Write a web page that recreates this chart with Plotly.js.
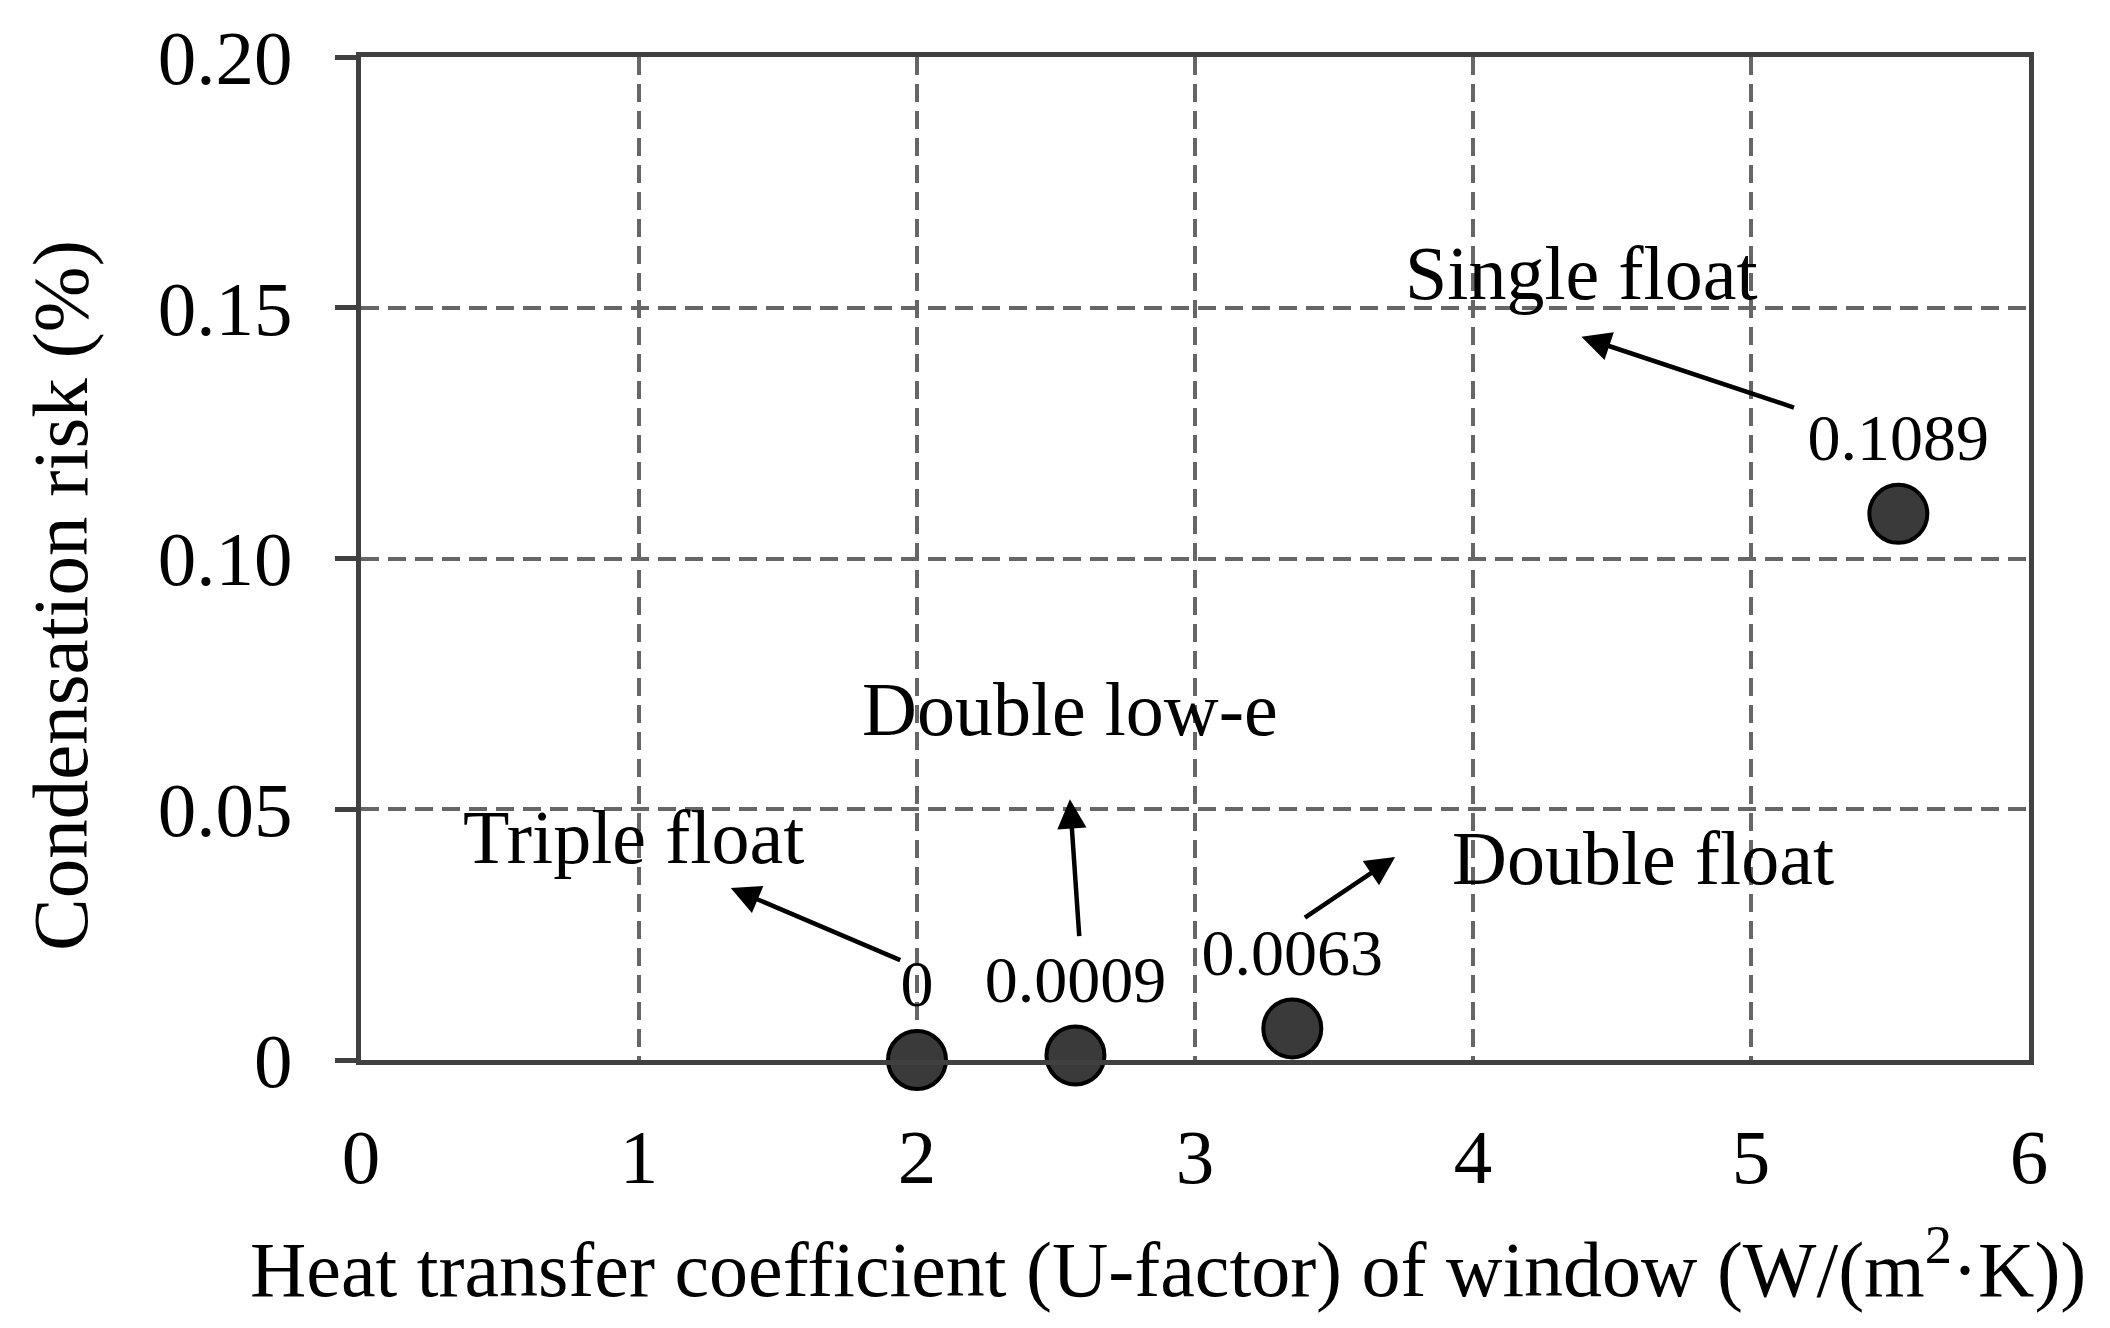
<!DOCTYPE html>
<html>
<head>
<meta charset="utf-8">
<script src="https://cdn.plot.ly/plotly-3.0.1.min.js"></script>
<style>
  html, body { margin: 0; padding: 0; background: #fff; }
  #chart { width: 2110px; height: 1328px; }
</style>
</head>
<body>
<div id="chart"></div>
<script>
// data
const windowTypes = ['Triple float', 'Double low-e', 'Double float', 'Single float'];
const uFactor = [2.0, 2.57, 3.35, 5.53];
const condensationRisk = [0, 0.0009, 0.0063, 0.1089];
const riskLabels = ['0', '0.0009', '0.0063', '0.1089'];

const yTickVals = [0, 0.05, 0.10, 0.15, 0.20];
const yTickText = ['0', '0.05', '0.10', '0.15', '0.20'];
const xTickVals = [0, 1, 2, 3, 4, 5, 6];

const xTitle = 'Heat transfer coefficient (U-factor) of window (W/(m<sup>2</sup>·K))';
const yTitle = 'Condensation risk (%)';

const font = 'Liberation Serif, Times New Roman, serif';

// where each name sits, and the arrow from the value label toward it
const nameSpots = [
    {x: 0.98, y: 0.0445, tailX: 1.945, tailY: 0.0198, headX: 1.33, headY: 0.0343},
    {x: 2.55, y: 0.070, tailX: 2.584, tailY: 0.0244, headX: 2.55, headY: 0.052},
    {x: 4.61, y: 0.0402, tailX: 3.39, tailY: 0.0282, headX: 3.72, headY: 0.0405},
    {x: 4.39, y: 0.157, tailX: 5.16, tailY: 0.130, headX: 4.39, headY: 0.1442}
];

let pointTrace = {
    x: uFactor,
    y: condensationRisk,
    text: riskLabels,
    mode: 'markers+text',
    textposition: 'top center',
    textfont: {family: font, size: 66, color: '#000'},
    marker: {size: 58, color: '#3a3a3a', line: {color: '#000', width: 4}},
    cliponaxis: false,
    hoverinfo: 'x+y'
};

let annotations = [];
nameSpots.forEach(function(s, i) {
    annotations.push({
        x: s.x, y: s.y, xref: 'x', yref: 'y',
        text: windowTypes[i], showarrow: false,
        font: {family: font, size: 76, color: '#000'}
    });
    annotations.push({
        x: s.headX, y: s.headY, ax: s.tailX, ay: s.tailY,
        xref: 'x', yref: 'y', axref: 'x', ayref: 'y',
        text: '', showarrow: true,
        arrowhead: 2, arrowsize: 1.3, arrowwidth: 4.5, arrowcolor: '#000'
    });
});

// axis titles, placed by hand to sit where the reference has them
annotations.push({
    x: 0.484, y: -0.203, xref: 'paper', yref: 'paper',
    xanchor: 'center', yanchor: 'middle',
    text: xTitle, showarrow: false,
    font: {family: font, size: 78, color: '#000'}
});
annotations.push({
    x: -0.1805, y: 0.4636, xref: 'paper', yref: 'paper',
    xanchor: 'center', yanchor: 'middle', textangle: -90,
    text: yTitle, showarrow: false,
    font: {family: font, size: 79, color: '#000'}
});

let layout = {
    width: 2110,
    height: 1328,
    margin: {l: 361, r: 81, t: 57, b: 268},
    paper_bgcolor: '#fff',
    plot_bgcolor: '#fff',
    showlegend: false,
    font: {family: font, color: '#000'},
    xaxis: {
        range: [0, 6],
        tickvals: xTickVals,
        ticks: '',
        ticklabelstandoff: 26,
        tickfont: {family: font, size: 77, color: '#000'},
        showgrid: true,
        gridcolor: '#666',
        gridwidth: 4,
        griddash: '18px,9px',
        zeroline: false,
        showline: true,
        linecolor: '#404040',
        linewidth: 5,
        mirror: true
    },
    yaxis: {
        range: [0, 0.2],
        tickvals: yTickVals,
        ticktext: yTickText,
        ticks: 'outside',
        ticklen: 21,
        tickwidth: 5,
        tickcolor: '#404040',
        ticklabelstandoff: 27,
        tickfont: {family: font, size: 77, color: '#000'},
        showgrid: true,
        gridcolor: '#666',
        gridwidth: 4,
        griddash: '18px,9px',
        zeroline: false,
        showline: true,
        linecolor: '#404040',
        linewidth: 5,
        mirror: true
    },
    annotations: annotations
};

Plotly.newPlot('chart', [pointTrace], layout, {staticPlot: true});
</script>
</body>
</html>
